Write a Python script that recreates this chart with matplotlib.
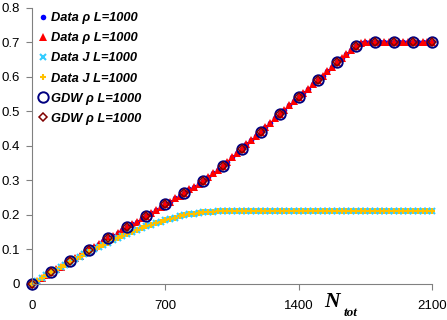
import matplotlib
matplotlib.use('Agg')
import matplotlib.pyplot as plt

# data points (dense simulation runs)
n_data = list(range(0, 2101, 25))
rho_data = [0.000, 0.008, 0.016, 0.025, 0.033, 0.041, 0.049, 0.057, 0.065, 0.073,
            0.081, 0.090, 0.098, 0.106, 0.114, 0.123, 0.131, 0.139, 0.147, 0.156,
            0.164, 0.172, 0.180, 0.189, 0.197, 0.205, 0.213, 0.222, 0.230, 0.238,
            0.247, 0.255, 0.264, 0.273, 0.281, 0.290, 0.299, 0.309, 0.320, 0.331,
            0.342, 0.354, 0.366, 0.379, 0.391, 0.404, 0.416, 0.429, 0.441, 0.454,
            0.467, 0.480, 0.493, 0.505, 0.517, 0.530, 0.542, 0.554, 0.566, 0.578,
            0.590, 0.603, 0.616, 0.629, 0.642, 0.654, 0.666, 0.678, 0.690, 0.697,
            0.700, 0.700, 0.700, 0.700, 0.700, 0.700, 0.700, 0.700, 0.700, 0.700,
            0.700, 0.700, 0.700, 0.700, 0.700]
j_data = [0.000, 0.008, 0.016, 0.024, 0.032, 0.040, 0.048, 0.055, 0.063, 0.070,
          0.078, 0.085, 0.092, 0.099, 0.106, 0.113, 0.119, 0.126, 0.132, 0.138,
          0.144, 0.150, 0.155, 0.161, 0.166, 0.171, 0.175, 0.180, 0.184, 0.188,
          0.191, 0.195, 0.198, 0.201, 0.203, 0.205, 0.207, 0.208, 0.209, 0.210,
          0.210, 0.210, 0.210, 0.210, 0.210, 0.210, 0.210, 0.210, 0.210, 0.210,
          0.210, 0.210, 0.210, 0.210, 0.210, 0.210, 0.210, 0.210, 0.210, 0.210,
          0.210, 0.210, 0.210, 0.210, 0.210, 0.210, 0.210, 0.210, 0.210, 0.210,
          0.210, 0.210, 0.210, 0.210, 0.210, 0.210, 0.210, 0.210, 0.210, 0.210,
          0.210, 0.210, 0.210, 0.210, 0.210]

# GDW theory points
n_gdw = list(range(0, 2101, 100))
rho_gdw = [0.000, 0.033, 0.065, 0.098, 0.131, 0.164, 0.197, 0.230, 0.264, 0.299,
           0.342, 0.391, 0.441, 0.493, 0.542, 0.590, 0.642, 0.690, 0.700, 0.700,
           0.700, 0.700]

labels = ['Data \u03c1 L=1000', 'Data \u03c1 L=1000', 'Data J L=1000',
          'Data J L=1000', 'GDW \u03c1 L=1000', 'GDW \u03c1 L=1000']

plt.rcParams['font.family'] = ['Liberation Sans', 'DejaVu Sans']

fig = plt.figure(figsize=(4.47, 3.2), dpi=100)
ax = fig.add_axes([0.0716, 0.114, 0.895, 0.861])

h1, = ax.plot(n_data, rho_data, 'o', color='#0000FF', ms=4, mew=0, clip_on=False)
h2, = ax.plot(n_data, rho_data, '^', color='#FF0000', ms=5.5, mew=0, clip_on=False)
h3, = ax.plot(n_data, j_data, 'x', color='#33CCFF', ms=4.5, mew=1.5, clip_on=False)
h4, = ax.plot(n_data, j_data, '+', color='#FFC000', ms=5, mew=1.5, clip_on=False)
h5, = ax.plot(n_gdw, rho_gdw, 'o', mfc='none', mec='#000080', ms=7.5, mew=1.4, clip_on=False)
h6, = ax.plot(n_gdw, rho_gdw, 'D', mfc='none', mec='#800000', ms=4.5, mew=1.1, clip_on=False)

ax.set_xlim(0, 2100)
ax.set_ylim(0, 0.8)
ax.set_xticks([0, 700, 1400, 2100])
ax.set_yticks([0, 0.1, 0.2, 0.3, 0.4, 0.5, 0.6, 0.7, 0.8])
ax.set_yticklabels(['0', '0.1', '0.2', '0.3', '0.4', '0.5', '0.6', '0.7', '0.8'])
for s in ['top', 'right']:
    ax.spines[s].set_visible(False)
for s in ['left', 'bottom']:
    ax.spines[s].set_color('#808080')
ax.tick_params(axis='both', colors='#808080', labelcolor='black', labelsize=9.5,
               length=4, direction='out')
ax.tick_params(axis='x', pad=8)
ax.tick_params(axis='y', pad=5)

leg = ax.legend([h1, h2, h3, h4, h5, h6], labels, loc='upper left',
                bbox_to_anchor=(-0.005, 1.018), frameon=False, handlelength=0.6,
                handletextpad=0.35, labelspacing=0.63, borderaxespad=0.3,
                prop={'weight': 'bold', 'style': 'italic', 'size': 9.3})

fig.text(332 / 447, 1 - 307 / 320, 'N', family='Liberation Serif', weight='bold',
         style='italic', fontsize=15.5, ha='center', va='baseline')
fig.text(351 / 447, 1 - 316.5 / 320, 'tot', family='Liberation Serif', weight='bold',
         style='italic', fontsize=9.5, ha='center', va='baseline')

fig.savefig('out.png', dpi=100)
